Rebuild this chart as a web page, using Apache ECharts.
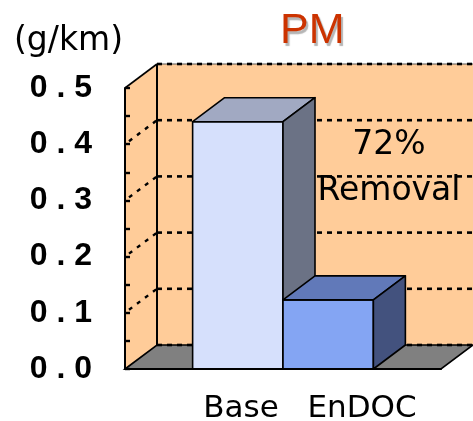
<!DOCTYPE html>
<html>
<head>
<meta charset="utf-8">
<script src="https://cdn.jsdelivr.net/npm/echarts@6/dist/echarts.min.js"></script>
<style>
  html, body { margin: 0; padding: 0; background: #ffffff; }
  #chart { width: 473px; height: 421px; }
</style>
</head>
<body>
<div id="chart"></div>
<script>
// PM emissions per vehicle-km, before and after the EnDOC catalyst
const categories = ['Base', 'EnDOC'];
const pmValues = [0.44, 0.123];
const yTicks = [0, 0.1, 0.2, 0.3, 0.4, 0.5];
const noteLines = ['72%', 'Removal'];
const unitText = '(g/km)';
const titleText = 'PM';

// pseudo-3D depth: offset from the front plane to the back wall
const DX = 32, DY = -24;
const faceColors = [
  { front: '#D6E0FC', top: '#A1A9C2', side: '#6B7285' },
  { front: '#84A5F3', top: '#6179B9', side: '#43527E' }
];
const EDGE = { stroke: '#000', lineWidth: 1.6, lineJoin: 'round' };

// back wall, side wall, floor and the dashed gridlines
function renderWalls(params, api) {
  const cs = params.coordSys;
  const L = cs.x, R = cs.x + cs.width;
  const yTop = api.coord([0, yTicks[yTicks.length - 1]])[1];
  const y0 = api.coord([0, 0])[1];
  const kids = [];
  kids.push({ type: 'rect', shape: { x: L + DX, y: yTop + DY, width: R - L + 40, height: y0 - yTop },
    style: { fill: '#FFCC99' } });
  kids.push({ type: 'polygon', shape: { points: [[L, yTop], [L + DX, yTop + DY], [L + DX, y0 + DY], [L, y0]] },
    style: { fill: '#FFCC99' } });
  kids.push({ type: 'polygon', shape: { points: [[L, y0], [L + DX, y0 + DY], [R + DX, y0 + DY], [R, y0]] },
    style: { fill: '#808080', stroke: '#000', lineWidth: 1.6 } });
  // note sits on the back wall, beneath the gridlines
  const noteX = R - 52;
  const noteY = [api.coord([0, 0.4])[1] + DY + 9, api.coord([0, 0.3])[1] + DY - 1];
  noteLines.forEach(function (t, i) {
    kids.push({ type: 'text', style: {
      x: noteX, y: noteY[i], text: t,
      fontFamily: 'DejaVu Sans', fontSize: 33, fill: '#000',
      align: 'center', verticalAlign: 'top' } });
  });
  // edges
  kids.push({ type: 'line', shape: { x1: L + DX, y1: yTop + DY, x2: L + DX, y2: y0 + DY },
    style: { stroke: '#000', lineWidth: 2 } });
  kids.push({ type: 'line', shape: { x1: L, y1: yTop, x2: L + DX, y2: yTop + DY },
    style: { stroke: '#000', lineWidth: 1.6 } });
  kids.push({ type: 'line', shape: { x1: L + DX, y1: yTop + DY, x2: R + DX + 40, y2: yTop + DY },
    style: { stroke: '#555', lineWidth: 1 } });
  yTicks.forEach(function (v) {
    const y = api.coord([0, v])[1];
    kids.push({ type: 'line', shape: { x1: L + DX, y1: y + DY, x2: R + DX + 40, y2: y + DY },
      style: { stroke: '#000', lineWidth: 2.6, lineDash: [5, 5] } });
    if (v > 0 && v < yTicks[yTicks.length - 1]) {
      kids.push({ type: 'line', shape: { x1: L + 4, y1: y - 3, x2: L + DX, y2: y + DY },
        style: { stroke: '#000', lineWidth: 2.4, lineDash: [4, 6] } });
    }
  });
  return { type: 'group', children: kids };
}

// one box per category; the two boxes meet at the boundary between categories
function renderBar(params, api) {
  const idx = params.dataIndex;
  const cat = api.value(0);
  const band = api.size([1, 0])[0];
  const w = band * 0.572;
  const base = api.coord([cat, 0]);
  const top = api.coord([cat, api.value(1)]);
  const x0 = idx === 0 ? base[0] + band / 2 - w : base[0] - band / 2;
  const x1 = x0 + w, ty = top[1], by = base[1];
  const c = faceColors[idx];
  return { type: 'group', children: [
    { type: 'rect', shape: { x: x0, y: ty, width: w, height: by - ty },
      style: Object.assign({ fill: c.front }, EDGE) },
    { type: 'polygon', shape: { points: [[x0, ty], [x0 + DX, ty + DY], [x1 + DX, ty + DY], [x1, ty]] },
      style: Object.assign({ fill: c.top }, EDGE) },
    { type: 'polygon', shape: { points: [[x1, ty], [x1 + DX, ty + DY], [x1 + DX, by + DY], [x1, by]] },
      style: Object.assign({ fill: c.side }, EDGE) }
  ] };
}

const chart = echarts.init(document.getElementById('chart'), null, { renderer: 'canvas' });
chart.setOption({
  animation: false,
  backgroundColor: '#ffffff',
  title: {
    text: titleText, left: 275, top: 5,
    textStyle: { fontFamily: 'Liberation Sans', fontSize: 43, fontWeight: 'normal', color: '#CC3300',
      textShadowColor: 'rgba(120,120,120,0.55)', textShadowOffsetX: 2, textShadowOffsetY: 3, textShadowBlur: 1 }
  },
  graphic: [{
    type: 'text', left: 14, top: 25, z: 10,
    style: { text: unitText, fontFamily: 'DejaVu Sans', fontSize: 33, fill: '#000' }
  }],
  grid: { left: 125, right: 32, top: 88, bottom: 52, containLabel: false, outerBoundsMode: 'none' },
  xAxis: {
    type: 'category', data: categories,
    axisLine: { show: true, lineStyle: { color: '#000', width: 2 } },
    axisTick: { show: false },
    axisLabel: {
      interval: 0, hideOverlap: false,
      margin: 24, color: '#000', fontFamily: 'DejaVu Sans', fontSize: 31,
      formatter: function (v) { return v === categories[0] ? '{s|' + v + '}' : '{n|' + v + '}'; },
      rich: {
        s: { fontFamily: 'DejaVu Sans', fontSize: 31, color: '#000', padding: [0, 0, 0, 74] },
        n: { fontFamily: 'DejaVu Sans', fontSize: 31, color: '#000' }
      }
    },
    splitLine: { show: false }, z: 5
  },
  yAxis: {
    type: 'value', min: 0, max: 0.5, interval: 0.1,
    axisLine: { show: true, lineStyle: { color: '#000', width: 2 } },
    axisTick: { show: true, inside: true, length: 5, lineStyle: { color: '#000', width: 2.4 } },
    minorTick: { show: true, splitNumber: 2, length: 5, lineStyle: { color: '#000', width: 2.4 } },
    axisLabel: {
      margin: 33, color: '#000', fontFamily: 'Liberation Sans', fontWeight: 'bold', fontSize: 32,
      padding: [6, 0, 0, 0],
      formatter: function (v) { return v.toFixed(1).split('').join(' '); }
    },
    splitLine: { show: false }, z: 5
  },
  series: [
    { type: 'custom', name: 'walls', z: 0, silent: true, data: [[0, 0]], renderItem: renderWalls },
    { type: 'custom', name: 'PM', z: 3,
      data: categories.map(function (c, i) { return [i, pmValues[i]]; }),
      renderItem: renderBar }
  ]
});
</script>
</body>
</html>
